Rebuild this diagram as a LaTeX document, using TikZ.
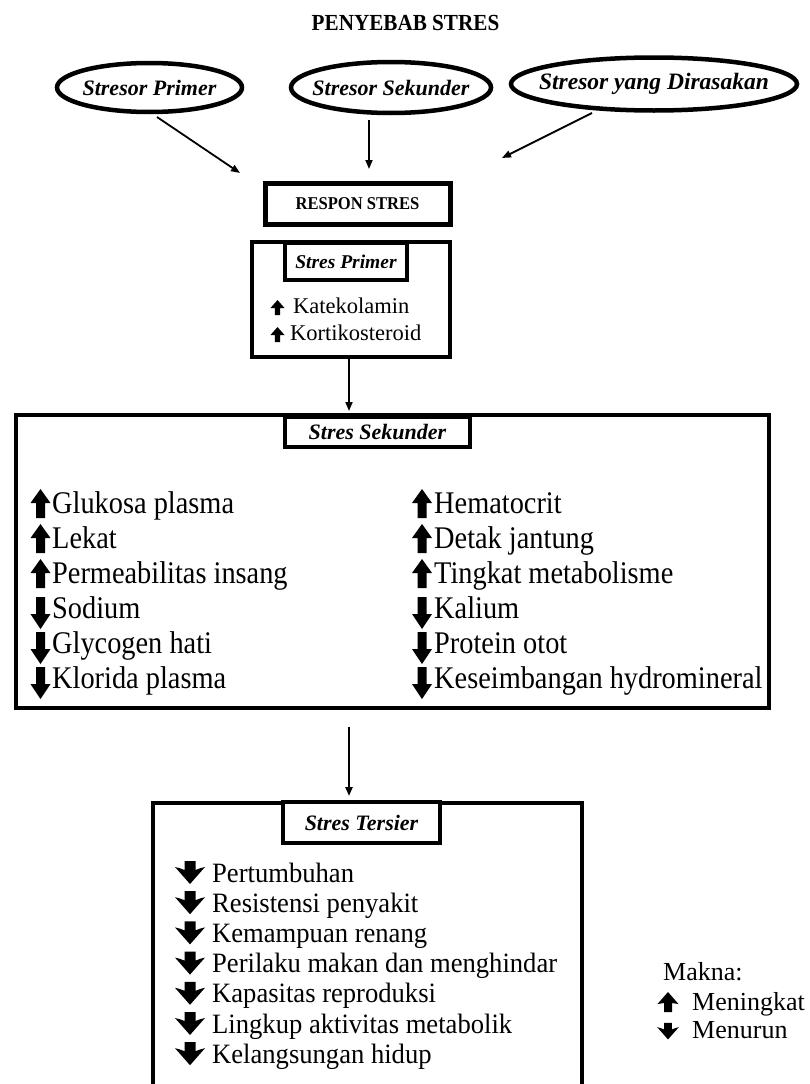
\documentclass[tikz,border=0pt]{standalone}
\usepackage{fontspec}
\setmainfont{Liberation Serif}
\newfontfamily\sekfont[FakeStretch=0.9]{Liberation Serif}
\newfontfamily\terfont[FakeStretch=0.95]{Liberation Serif}
\newfontfamily\narrowfont[FakeStretch=0.92]{Liberation Serif}
\usetikzlibrary{shapes.geometric,arrows.meta}
\tikzset{
  conn/.style={line width=1.8pt,-{Triangle[length=9pt,width=7pt]}},
  ell/.style={ellipse,draw,line width=4.5pt,inner sep=0pt},
  elltext/.style={inner sep=0pt,font=\fontsize{22}{24}\selectfont\bfseries\itshape},
  bx/.style={draw,line width=4pt,inner sep=0pt,fill=white},
  tabbox/.style={draw,line width=4pt,inner sep=0pt,fill=white,font=\fontsize{21}{23}\selectfont\bfseries\itshape},
  sektext/.style={anchor=base west,inner sep=0pt,font=\sekfont\fontsize{31.5}{33}\selectfont},
  tertext/.style={anchor=base west,inner sep=0pt,font=\terfont\fontsize{28}{30}\selectfont},
  pritext/.style={anchor=base west,inner sep=0pt,font=\fontsize{22.5}{24}\selectfont},
  legtext/.style={anchor=base west,inner sep=0pt,font=\fontsize{26}{28}\selectfont},
  sekup/.pic={\fill (-4.5,5) -- (4.5,5) -- (4.5,-10) -- (10,-10) -- (0,-24) -- (-10,-10) -- (-4.5,-10) -- cycle;},
  sekdown/.pic={\fill (-4.5,-21) -- (4.5,-21) -- (4.5,-4) -- (10,-4) -- (0,11) -- (-10,-4) -- (-4.5,-4) -- cycle;},
  smallup/.pic={\fill (-2.6,2) -- (2.6,2) -- (2.6,-5) -- (7,-5) -- (0,-13) -- (-7,-5) -- (-2.6,-5) -- cycle;},
  terdown/.pic={\fill (-5.5,-21) -- (5.5,-21) -- (5.5,-12) .. controls (9,-13) and (12,-15) .. (15,-15) -- (0,2) -- (-15,-15) .. controls (-12,-15) and (-9,-13) .. (-5.5,-12) -- cycle;},
  legup/.pic={\fill (-4,2) -- (4,2) -- (4,-7) .. controls (6,-7) and (8,-6) .. (10.5,-6) -- (0,-18) -- (-10.5,-6) .. controls (-8,-6) and (-6,-7) .. (-4,-7) -- cycle;},
}
\begin{document}
\begin{tikzpicture}[x=1pt,y=-1pt]
\useasboundingbox[fill=white] (0,0) rectangle (810,1084);

% title
\node[anchor=base,inner sep=0pt,font=\narrowfont\fontsize{23}{25}\selectfont\bfseries] (title) at (405.5,30) {PENYEBAB STRES};

% stressors
\node[ell,minimum width=185pt,minimum height=49pt] (e1) at (149.5,87.5) {};
\node[elltext] (e1t) at (e1.center) {Stresor Primer};
\node[ell,minimum width=200pt,minimum height=51pt] (e2) at (391,87.5) {};
\node[elltext] (e2t) at (e2.center) {Stresor Sekunder};
\node[ell,minimum width=286pt,minimum height=53pt] (e3) at (654,84) {};
\node[elltext,font=\fontsize{23.5}{25}\selectfont\bfseries\itshape] (e3t) at (e3.center) {Stresor yang Dirasakan};

\coordinate (a1s) at (157,117);
\coordinate (a1e) at (240,173);
\coordinate (a2s) at (369,120);
\coordinate (a2e) at (369,169);
\coordinate (a3s) at (592,113);
\coordinate (a3e) at (502,158);
\draw[conn] (a1s) -- (a1e);
\draw[conn] (a2s) -- (a2e);
\draw[conn] (a3s) -- (a3e);

% respon stres
\node[bx,line width=5pt,minimum width=185pt,minimum height=41pt,font=\narrowfont\fontsize{18}{20}\selectfont\bfseries] (respon) at (357.5,203.5) {RESPON STRES};

% stres primer
\node[bx,minimum width=198pt,minimum height=115pt] (primer) at (351,299.5) {};
\node[tabbox,minimum width=122pt,minimum height=37pt,font=\fontsize{19.5}{21}\selectfont\bfseries\itshape] (primertab) at (346,261.5) {Stres Primer};
\pic at (277.5,313) {smallup};
\node[pritext] (p1) at (293,313) {Katekolamin};
\pic at (277.5,340) {smallup};
\node[pritext] (p2) at (290,340) {Kortikosteroid};

\coordinate (b1s) at (349,359);
\coordinate (b1e) at (349,411);
\draw[conn] (b1s) -- (b1e);

% stres sekunder
\node[bx,minimum width=753pt,minimum height=293pt] (sekunder) at (392.5,561.5) {};
\node[tabbox,minimum width=185pt,minimum height=30pt,font=\fontsize{22}{24}\selectfont\bfseries\itshape] (sektab) at (377.5,432) {Stres Sekunder};

\foreach \t/\d [count=\i from 0] in {Glukosa plasma/up,Lekat/up,Permeabilitas insang/up,Sodium/down,Glycogen hati/down,Klorida plasma/down}{
  \pic at (40.5,{513+35*\i}) {sek\d};
  \node[sektext] (sl\i) at (52,{513+35*\i}) {\t};
}
\foreach \t/\d [count=\i from 0] in {Hematocrit/up,Detak jantung/up,Tingkat metabolisme/up,Kalium/down,Protein otot/down,Keseimbangan hydromineral/down}{
  \pic at (422,{513+35*\i}) {sek\d};
  \node[sektext] (sr\i) at (434,{513+35*\i}) {\t};
}

\coordinate (c1s) at (349,727);
\coordinate (c1e) at (349,796);
\draw[conn,line width=2.2pt] (c1s) -- (c1e);

% stres tersier
\draw[line width=4pt] (153,1100) -- (153,803) -- (582,803) -- (582,1100);
\node[tabbox,minimum width=157pt,minimum height=41pt,font=\fontsize{22}{24}\selectfont\bfseries\itshape] (tertab) at (361.5,822.5) {Stres Tersier};
\foreach \t [count=\i from 0] in {Pertumbuhan,Resistensi penyakit,Kemampuan renang,Perilaku makan dan menghindar,Kapasitas reproduksi,Lingkup aktivitas metabolik,Kelangsungan hidup}{
  \pic at (190,{882+30.2*\i}) {terdown};
  \node[tertext] (t\i) at (212,{882+30.2*\i}) {\t};
}

% legend
\node[legtext] (makna) at (663,980) {Makna:};
\pic at (668,1010) {legup};
\node[legtext] (meningkat) at (692,1010) {Meningkat};
\pic[scale=0.72] at (668,1038) {terdown};
\node[legtext] (menurun) at (692,1038) {Menurun};
\end{tikzpicture}
\end{document}
